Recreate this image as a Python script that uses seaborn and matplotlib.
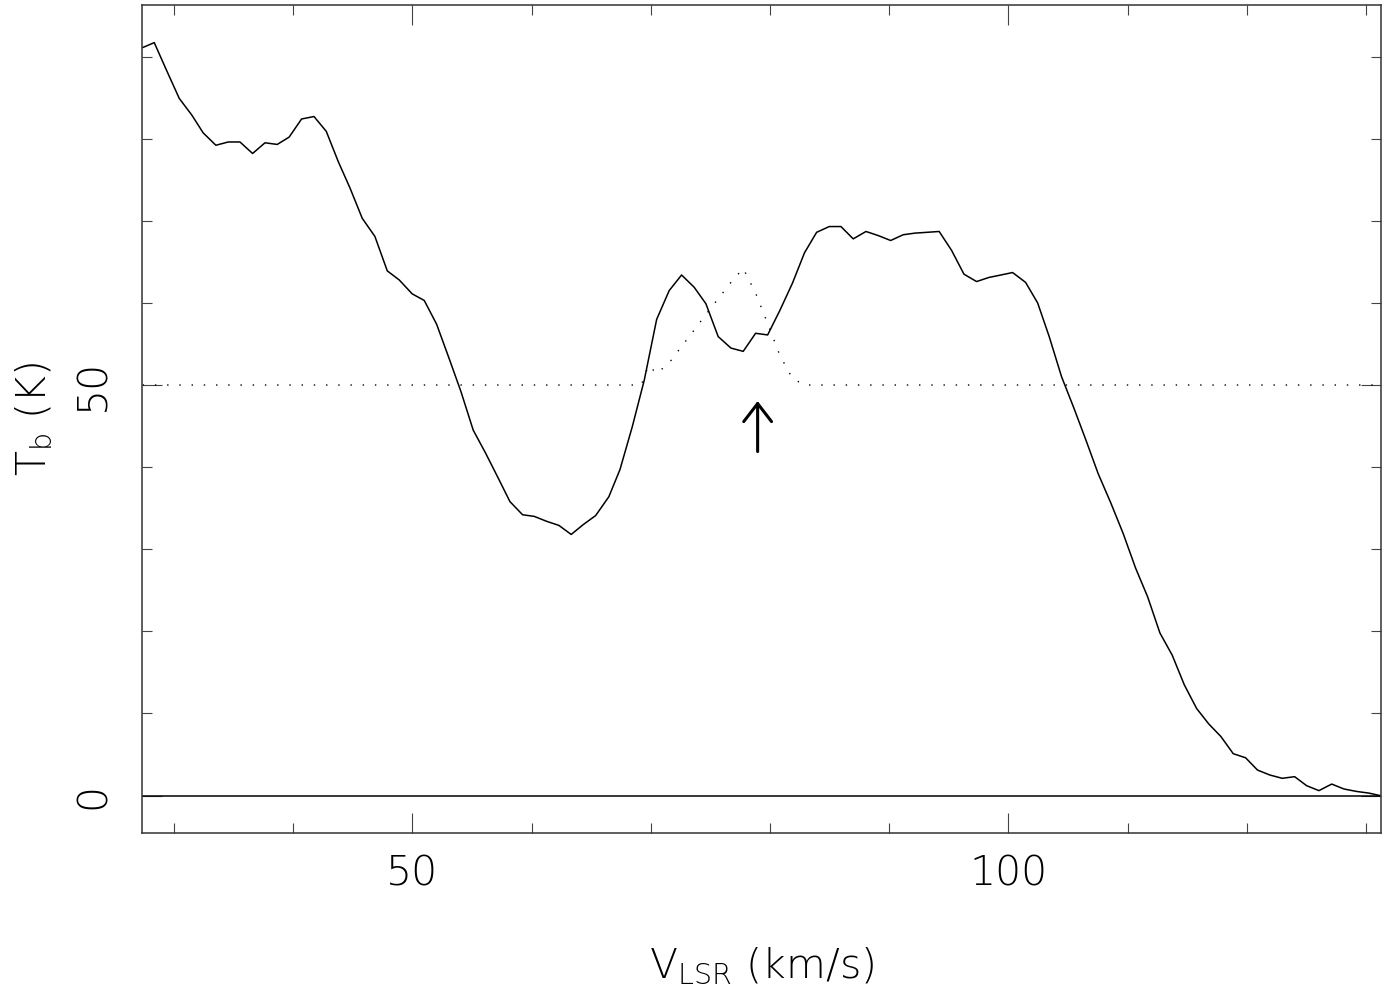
import matplotlib
matplotlib.use("Agg")
import matplotlib.pyplot as plt
import seaborn as sns
from matplotlib.ticker import FixedLocator

# HI spectrum, brightness temperature vs LSR velocity
velocity = [
    27.37, 28.34, 29.38, 30.44, 31.48, 32.45, 33.51, 34.55, 35.53, 36.59,
    37.63, 38.66, 39.66, 40.70, 41.74, 42.77, 43.78, 44.76, 45.79, 46.85,
    47.89, 48.89, 49.98, 50.99, 52.03, 53.06, 54.07, 55.10, 56.14, 57.15,
    58.18, 59.24, 60.22, 61.26, 62.29, 63.32, 64.33, 65.37, 66.48, 67.41,
    68.44, 69.45, 70.49, 71.54, 72.58, 73.64, 74.62, 75.65, 76.72, 77.75,
    78.79, 79.80, 80.83, 81.88, 82.89, 83.91, 84.97, 85.95, 86.98, 88.05,
    89.08, 90.12, 91.17, 92.16, 93.19, 94.19, 95.23, 96.27, 97.33, 98.36,
    99.37, 100.35, 101.44, 102.45, 103.42, 104.46, 105.49, 106.50, 107.53, 108.60,
    109.63, 110.67, 111.68, 112.71, 113.74, 114.75, 115.79, 116.82, 117.82, 118.86,
    119.90, 120.90, 121.94, 122.97, 124.01, 125.02, 126.05, 127.12, 128.15, 129.21,
    130.24, 131.17,
]
tb = [
    91.1, 91.7, 88.3, 84.9, 82.9, 80.7, 79.2, 79.6, 79.6, 78.2,
    79.5, 79.3, 80.2, 82.4, 82.7, 80.9, 77.2, 74.0, 70.3, 68.1,
    63.9, 62.8, 61.1, 60.3, 57.4, 53.3, 49.2, 44.5, 41.7, 38.8,
    35.8, 34.2, 34.0, 33.4, 32.9, 31.8, 33.0, 34.1, 36.4, 39.7,
    44.9, 50.6, 58.0, 61.5, 63.4, 61.9, 59.9, 55.9, 54.5, 54.1,
    56.3, 56.1, 59.1, 62.4, 66.1, 68.6, 69.3, 69.3, 67.8, 68.7,
    68.2, 67.6, 68.3, 68.5, 68.6, 68.7, 66.4, 63.5, 62.6, 63.1,
    63.4, 63.7, 62.5, 60.0, 55.9, 51.0, 47.2, 43.3, 39.2, 35.6,
    31.9, 27.7, 24.2, 19.8, 17.1, 13.5, 10.6, 8.7, 7.2, 5.1,
    4.6, 3.1, 2.5, 2.1, 2.3, 1.2, 0.6, 1.4, 0.8, 0.5,
    0.3, 0.0,
]

# dotted curve: baseline plus the interpolated bump
model_velocity = [27.37, 69.2, 69.8, 70.49, 71.54, 72.58, 73.64, 74.62, 75.65,
                  76.72, 77.75, 78.79, 79.80, 80.83, 81.88, 82.89, 131.17]
model_tb = [50.0, 50.0, 52.4, 51.4, 52.7, 54.7, 56.7, 58.6, 60.5,
            62.5, 64.2, 61.2, 57.5, 53.6, 50.8, 50.0, 50.0]

arrow_velocity = 78.96
arrow_tb = (41.9, 48.05)

x_major = [50, 100]
x_minor = [30, 40, 60, 70, 80, 90, 110, 120, 130]
y_major = [0, 50]
y_minor = [10, 20, 30, 40, 60, 70, 80, 90]

sns.set_theme(style="ticks")
plt.rcParams["font.family"] = ["DejaVu Sans"]
plt.rcParams["font.weight"] = "light"
plt.rcParams["axes.labelweight"] = "light"
plt.rcParams["mathtext.fontset"] = "custom"
plt.rcParams["mathtext.rm"] = "DejaVu Sans:light"
plt.rcParams["text.color"] = "black"
plt.rcParams["axes.labelcolor"] = "black"
plt.rcParams["xtick.labelcolor"] = "black"
plt.rcParams["ytick.labelcolor"] = "black"

fig = plt.figure(figsize=(13.96, 9.98), dpi=100)
ax = fig.add_axes([0.1017, 0.1650, 0.8875, 0.8303])

sns.lineplot(x=model_velocity, y=model_tb, ax=ax, color="black", lw=1.0,
             dashes=False, linestyle=(0, (1, 7.8)), sort=False)
sns.lineplot(x=velocity, y=tb, ax=ax, color="black", lw=1.1, sort=False)
ax.axhline(0, color="black", lw=1.1)

ax.annotate("", xy=(arrow_velocity, arrow_tb[1]),
            xytext=(arrow_velocity, arrow_tb[0]),
            arrowprops=dict(arrowstyle="->,head_length=0.65,head_width=0.5",
                            mutation_scale=20, lw=2.2, color="black",
                            shrinkA=0, shrinkB=0))

ax.set_xlim(27.31, 131.25)
ax.set_ylim(-4.6, 96.32)

ax.xaxis.set_major_locator(FixedLocator(x_major))
ax.xaxis.set_minor_locator(FixedLocator(x_minor))
ax.yaxis.set_major_locator(FixedLocator(y_major))
ax.yaxis.set_minor_locator(FixedLocator(y_minor))

for side in ax.spines.values():
    side.set_color("#333333")
    side.set_linewidth(1.1)

ax.tick_params(which="both", direction="in", top=True, right=True,
               color="#444444", width=0.8, labelsize=29.5)
ax.tick_params(which="major", length=14.5)
ax.tick_params(which="minor", length=7.2)
ax.tick_params(axis="x", which="major", pad=15)
ax.tick_params(axis="y", which="major", pad=21, labelrotation=90)
for label in ax.get_yticklabels():
    label.set_va("center")

ax.set_xlabel(r"V$_{\rm LSR}$ (km/s)", fontsize=29.5, fontweight="light")
ax.set_ylabel(r"T$_{\rm b}$ (K)", fontsize=29.5, fontweight="light")
ax.xaxis.set_label_coords(0.5, -0.135)
ax.yaxis.set_label_coords(-0.071, 0.5)

fig.savefig("out.png", dpi=100, facecolor="white")
